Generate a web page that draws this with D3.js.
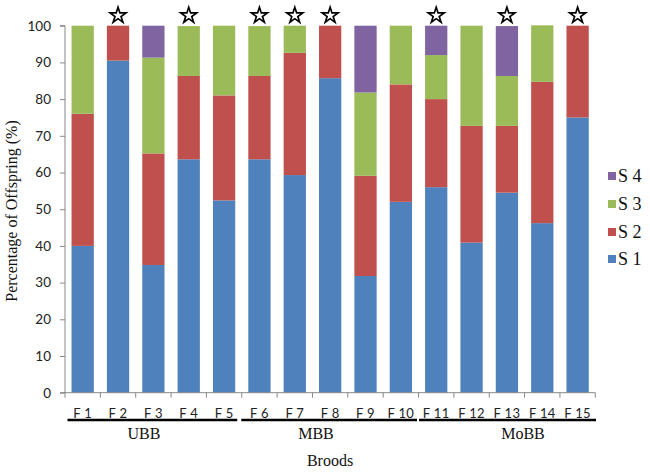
<!DOCTYPE html>
<html>
<head>
<meta charset="utf-8">
<script src="https://cdn.jsdelivr.net/npm/d3@7/dist/d3.min.js"></script>
<style>
  html, body { margin: 0; padding: 0; background: #fff; }
  svg { display: block; }
</style>
</head>
<body>
<svg id="chart" width="650" height="472"></svg>
<script>
const categories = ["F 1","F 2","F 3","F 4","F 5","F 6","F 7","F 8","F 9","F 10","F 11","F 12","F 13","F 14","F 15"];
const seriesNames = ["S 1","S 2","S 3","S 4"];
const s1 = [40.0, 90.5, 34.8, 63.6, 52.4, 63.6, 59.3, 85.7, 31.8, 52.0, 56.0, 40.9, 54.5, 46.2, 75.0];
const s2 = [36.0,  9.5, 30.4, 22.7, 28.6, 22.7, 33.3, 14.3, 27.3, 32.0, 24.0, 31.8, 18.2, 38.5, 25.0];
const s3 = [24.0,  0.0, 26.1, 13.6, 19.0, 13.6,  7.4,  0.0, 22.7, 16.0, 12.0, 27.3, 13.6, 15.4,  0.0];
const s4 = [ 0.0,  0.0,  8.7,  0.0,  0.0,  0.0,  0.0,  0.0, 18.2,  0.0,  8.0,  0.0, 13.6,  0.0,  0.0];
const starred = ["F 2","F 4","F 6","F 7","F 8","F 11","F 13","F 15"];
const groups = ["UBB","MBB","MoBB"];
const groupStart = ["F 1","F 6","F 11"];
const groupEnd = ["F 5","F 10","F 15"];
const yTicks = [0,10,20,30,40,50,60,70,80,90,100];
const colors = ["#4F81BD","#C0504D","#9BBB59","#8064A2"];

(function () {
const svg = d3.select("#chart");
const mLeft = 65, mRight = 595.3, mTop = 25.7, mBottom = 392.7;

const x = d3.scaleBand().domain(categories).range([mLeft, mRight]).paddingInner(0.37).paddingOuter(0.185);
const y = d3.scaleLinear().domain([0, 100]).range([mBottom, mTop]);

const rows = categories.map((c, i) => ({cat: c, "S 1": s1[i], "S 2": s2[i], "S 3": s3[i], "S 4": s4[i]}));
const stacked = d3.stack().keys(seriesNames)(rows);

svg.append("g").selectAll("g").data(stacked).join("g")
  .attr("fill", (d, i) => colors[i])
  .selectAll("rect").data(d => d.filter(p => p[1] - p[0] > 0)).join("rect")
  .attr("x", d => x(d.data.cat))
  .attr("width", x.bandwidth())
  .attr("y", d => y(d[1]))
  .attr("height", d => y(d[0]) - y(d[1]));

// Y axis
const yAxis = svg.append("g").attr("transform", `translate(${mLeft},0)`)
  .call(d3.axisLeft(y).tickValues(yTicks).tickSize(5).tickPadding(9));
yAxis.select(".domain").attr("stroke", "#888").attr("d", `M-5,${mTop}H0V${mBottom}H-5`);
yAxis.selectAll(".tick line").attr("stroke", "#888");
yAxis.selectAll("text").attr("font-family", "Lato, 'Open Sans', sans-serif").attr("font-size", 13.5).attr("fill", "#222");

// X axis line and boundary ticks
svg.append("line").attr("x1", mLeft).attr("x2", mRight).attr("y1", mBottom).attr("y2", mBottom).attr("stroke", "#888");
const bounds = categories.map(c => x(c) - x.step() * x.paddingInner() / 2).concat([mRight]);
svg.append("g").selectAll("line").data(bounds).join("line")
  .attr("x1", d => d).attr("x2", d => d).attr("y1", mBottom).attr("y2", mBottom + 5).attr("stroke", "#888");

// X labels
svg.append("g").selectAll("text").data(categories).join("text")
  .attr("x", d => x(d) + x.bandwidth() / 2).attr("y", 418)
  .attr("text-anchor", "middle")
  .attr("font-family", "Lato, 'Open Sans', sans-serif").attr("font-size", 13).attr("fill", "#222")
  .attr("letter-spacing", 0.3)
  .text(d => d);

// Group underlines
const lineOff = [2.5, -0.5, 0.5];
const lineOffR = [-4.5, -1.5, 0.7];
svg.append("g").selectAll("line").data(groups).join("line")
  .attr("x1", (d, i) => bounds[categories.indexOf(groupStart[i])] + lineOff[i])
  .attr("x2", (d, i) => bounds[categories.indexOf(groupEnd[i]) + 1] + lineOffR[i])
  .attr("y1", 420).attr("y2", 420).attr("stroke", "#000").attr("stroke-width", 2.5);

// Group labels
const groupLabelX = [144, 316, 523];
svg.append("g").selectAll("text").data(groups).join("text")
  .attr("x", (d, i) => groupLabelX[i]).attr("y", 439)
  .attr("text-anchor", "middle")
  .attr("font-family", "'Liberation Serif', 'Times New Roman', serif").attr("font-size", 16).attr("fill", "#111")
  .text(d => d);

// Axis titles
svg.append("text").attr("x", 330).attr("y", 466).attr("text-anchor", "middle")
  .attr("font-family", "'Liberation Serif', 'Times New Roman', serif").attr("font-size", 16).attr("fill", "#111")
  .text("Broods");
svg.append("text").attr("transform", "translate(17,211) rotate(-90)").attr("text-anchor", "middle")
  .attr("font-family", "'Liberation Serif', 'Times New Roman', serif").attr("font-size", 16).attr("fill", "#111")
  .text("Percentage of Offspring (%)");

// Stars
svg.append("g").selectAll("path").data(starred).join("path")
  .attr("d", d3.symbol(d3.symbolStar, 78))
  .attr("transform", d => `translate(${x(d) + x.bandwidth() / 2},15.5)`)
  .attr("fill", "#fff").attr("stroke", "#000").attr("stroke-width", 1.7).attr("stroke-linejoin", "miter");

// Legend
const legendY = [259, 232, 204, 176];
const leg = svg.append("g").selectAll("g").data(seriesNames).join("g")
  .attr("transform", (d, i) => `translate(608,${legendY[i]})`);
leg.append("rect").attr("x", 0).attr("y", -4).attr("width", 8).attr("height", 8).attr("fill", (d, i) => colors[i]);
leg.append("text").attr("x", 10).attr("y", 6)
  .attr("font-family", "'Liberation Serif', 'Times New Roman', serif").attr("font-size", 18).attr("fill", "#111")
  .text(d => d);
})();
</script>
</body>
</html>
